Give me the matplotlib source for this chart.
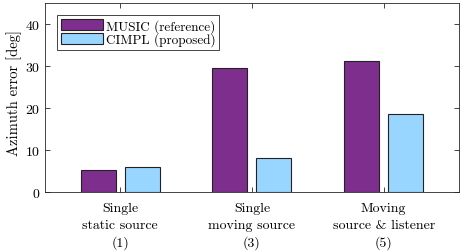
import numpy as np
import matplotlib.pyplot as plt

plt.rcParams["font.family"] = ["cmr10", "DejaVu Serif"]
plt.rcParams["mathtext.fontset"] = "cm"
plt.rcParams["axes.formatter.use_mathtext"] = True

# ---------- Data ----------
categories = ["Single\nstatic source\n(1)",
              "Single\nmoving source\n(3)",
              "Moving\nsource & listener\n(5)"]
music = [5.4, 29.5, 31.3]
cimpl = [5.9, 8.2, 18.6]

purple = "#7E2F8E"
cyan = "#99D6FF"

fig = plt.figure(figsize=(4.63, 2.53), dpi=100)
ax = fig.add_axes([0.097, 0.236, 0.894, 0.748])

x = np.arange(1, len(categories) + 1)
w = 0.265
off = 0.167
ax.bar(x - off, music, w, color=purple, edgecolor="#222222", linewidth=0.8,
       label="MUSIC (reference)")
ax.bar(x + off, cimpl, w, color=cyan, edgecolor="#222222", linewidth=0.8,
       label="CIMPL (proposed)")

ax.set_xlim(0.43, 3.57)
ax.set_ylim(0, 45)
ax.set_yticks([0, 10, 20, 30, 40])
ax.set_xticks(x)
ax.set_xticklabels([])
# multi-line category labels, one text per line so spacing stays even
line_offsets = [-16, -33, -50]
for xi, lab in zip(x, categories):
    for dy, line in zip(line_offsets, lab.split("\n")):
        ax.annotate(line, (xi, 0), xycoords=("data", "axes fraction"),
                    xytext=(0, dy), textcoords="offset pixels",
                    ha="center", va="center", fontsize=10)

ax.set_ylabel("Azimuth error [deg]", fontsize=10.5)
ax.yaxis.set_label_coords(-0.055, 0.53)
ax.tick_params(direction="in", top=True, right=True, length=3.5,
               width=0.6, color="#262626", labelsize=10)
for s in ax.spines.values():
    s.set_linewidth(0.6)
    s.set_color("#262626")

leg = ax.legend(loc="upper left", bbox_to_anchor=(0.029, 0.937), fontsize=9.5,
                fancybox=False, edgecolor="#262626", framealpha=1,
                handlelength=3.2, handleheight=0.95, handletextpad=0.2,
                borderpad=0.3, labelspacing=0.0, borderaxespad=0)
leg.get_frame().set_linewidth(0.6)

fig.savefig("out.png", dpi=100)
